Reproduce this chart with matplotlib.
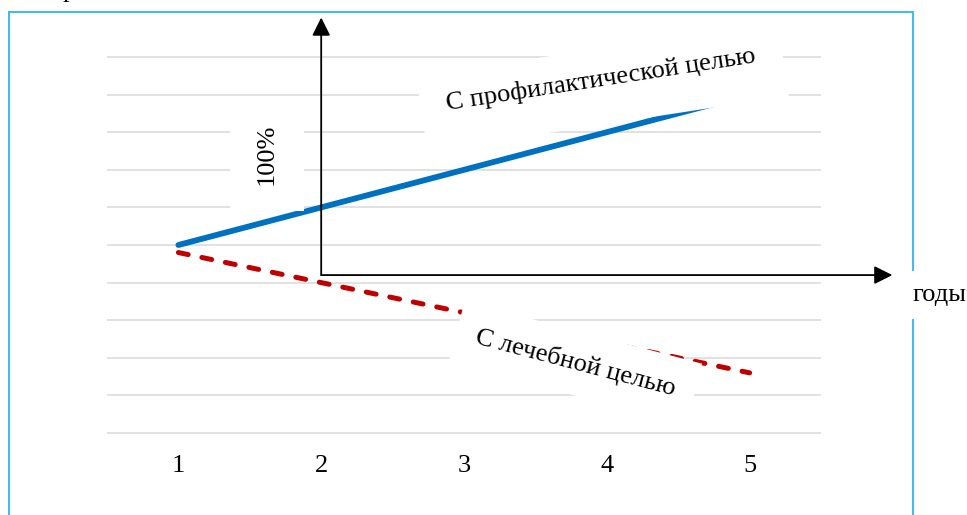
import matplotlib.pyplot as plt
from matplotlib.patches import Rectangle

plt.rcParams['font.family'] = ['Liberation Serif', 'DejaVu Serif']

# годы и значения (% от исходного уровня)
years = [1, 2, 3, 4, 5]
profilaktika = [50, 60, 70, 80, 90]
lechenie = [48, 40, 32, 24, 16]
grid_levels = [0, 10, 20, 30, 40, 50, 60, 70, 80, 90, 100]

W, H = 967, 515
fig = plt.figure(figsize=(W / 100, H / 100), dpi=100)

# оси: x от 0.5 до 5.5 -> 107..821 px, y от 0 до 100 -> 433..57 px
ax = fig.add_axes([107 / W, (H - 433) / H, (821 - 107) / W, (433 - 57) / H])
ax.set_xlim(0.5, 5.5)
ax.set_ylim(0, 100)
ax.patch.set_visible(False)
for s in ax.spines.values():
    s.set_visible(False)

ax.hlines(grid_levels, 0.5, 5.5, color='#D9D9D9', lw=1.1, clip_on=False, zorder=1)

ax.plot(years, profilaktika, color='#0070C0', lw=4.2, solid_capstyle='round', zorder=3, clip_on=False)
ax.plot(years, lechenie, color='#C00000', lw=3.6, linestyle=(0, (2, 2.8)),
        dash_capstyle='round', zorder=3, clip_on=False)

ax.set_xticks(years)
ax.set_xticklabels([str(y) for y in years], fontsize=19)
ax.set_yticks([])
ax.tick_params(axis='x', length=0, pad=16)

# стрелки осей
arrow = dict(arrowstyle='-|>,head_length=1.1,head_width=0.55', color='black',
             lw=1.3, shrinkA=0, shrinkB=0, mutation_scale=10)
ax.annotate('', xy=(2, 110.5), xytext=(2, 42), arrowprops=arrow, annotation_clip=False, zorder=4)
ax.annotate('', xy=(6.0, 42), xytext=(2, 42), arrowprops=arrow, annotation_clip=False, zorder=4)

label_top = 'С профилактической целью'
# белая подложка чуть ниже самой подписи
ax.text(3.97, 92.2, label_top, fontsize=19, rotation=8.8, color='none',
        ha='center', va='center', bbox=dict(boxstyle='square,pad=1.0', fc='white', ec='none'),
        zorder=5, clip_on=False)
ax.text(3.96, 94.0, label_top, fontsize=19, rotation=8.8,
        ha='center', va='center', zorder=6, clip_on=False)
ax.text(3.78, 18.6, 'С лечебной целью', fontsize=19, rotation=-14.7,
        ha='center', va='center', bbox=dict(boxstyle='square,pad=0.75', fc='white', ec='none'),
        zorder=5, clip_on=False)
ax.text(1.62, 74.2, '100%', fontsize=19, rotation=90, ha='center', va='center',
        bbox=dict(boxstyle='square,pad=1.0', fc='white', ec='none'), zorder=5, clip_on=False)
ax.text(6.33, 36.7, 'годы', fontsize=19, ha='center', va='center',
        bbox=dict(boxstyle='square,pad=0.5', fc='white', ec='none'), zorder=5, clip_on=False)

# рамка и обрезанный текст сверху
fig.add_artist(Rectangle((9 / W, -0.1), (913 - 9) / W, 1.1 - 12 / H, transform=fig.transFigure,
                         fill=False, ec='#3DBBEE', lw=1.4, zorder=-1))
fig.text(63 / W, 1 + 3 / H, 'р', fontsize=19, va='baseline', ha='left')

fig.savefig('out.png', dpi=100)
